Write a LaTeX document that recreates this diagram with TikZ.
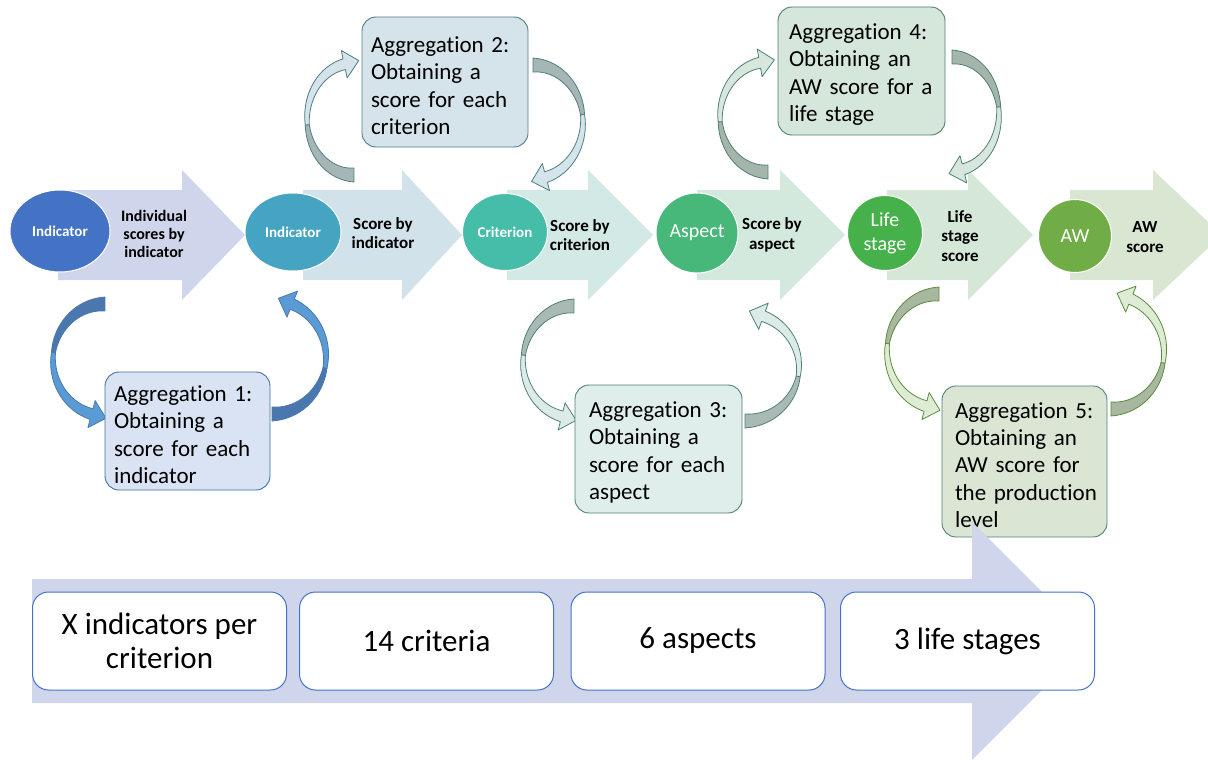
\documentclass[tikz,border=0pt]{standalone}
\usepackage{fontspec}
\setmainfont[RawFeature=-liga]{Carlito}
\usetikzlibrary{shapes.geometric}

% stage colours
\definecolor{arA}{HTML}{CFD5EA}
\definecolor{arB}{HTML}{D2E2EA}
\definecolor{arC}{HTML}{D2E9E5}
\definecolor{arD}{HTML}{D3E9DE}
\definecolor{arE}{HTML}{D5E8D7}
\definecolor{arF}{HTML}{D9E6D2}
\definecolor{ciA}{HTML}{4472C4}
\definecolor{ciB}{HTML}{45A4C1}
\definecolor{ciC}{HTML}{45BDA9}
\definecolor{ciD}{HTML}{48B87A}
\definecolor{ciE}{HTML}{46B14B}
\definecolor{ciF}{HTML}{70AD47}
\definecolor{frame}{HTML}{4472C4}

% curved arrow colour sets (dark back face, light front face, outline)
\definecolor{gaAdark}{HTML}{4A78AE}
\definecolor{gaAlight}{HTML}{5B9BD5}
\definecolor{gaAline}{HTML}{4A78AE}
\definecolor{gaBdark}{HTML}{A6B6B7}
\definecolor{gaBlight}{HTML}{D5E3EA}
\definecolor{gaBline}{HTML}{4E7E80}
\definecolor{gaCdark}{HTML}{A9BAB5}
\definecolor{gaClight}{HTML}{DCEBE8}
\definecolor{gaCline}{HTML}{4F7F7A}
\definecolor{gaDdark}{HTML}{A4B5AA}
\definecolor{gaDlight}{HTML}{D7E7DE}
\definecolor{gaDline}{HTML}{4F7F74}
\definecolor{gaEdark}{HTML}{A8B7A0}
\definecolor{gaElight}{HTML}{DEECD6}
\definecolor{gaEline}{HTML}{5B8C3C}

% aggregation box colours
\definecolor{bxA}{HTML}{DAE3F3}\definecolor{bxAl}{HTML}{41719C}
\definecolor{bxB}{HTML}{D5E3EA}\definecolor{bxBl}{HTML}{4E7F80}
\definecolor{bxC}{HTML}{DFEEEA}\definecolor{bxCl}{HTML}{507F7A}
\definecolor{bxD}{HTML}{D5E6DA}\definecolor{bxDl}{HTML}{4E7F75}
\definecolor{bxE}{HTML}{DAE6D3}\definecolor{bxEl}{HTML}{4F7F78}

% block arrow of the main row: body from #2 to #3, head from #3 to tip #4
\newcommand\flowarrow[4]{%
  \fill[#1] (#2,190) -- (#3,190) -- (#3,170) -- (#4,235) -- (#3,300)
    -- (#3,280) -- (#2,280) -- cycle;}

% twisted curved arrow following an ellipse
% #1 colour set, #2 cx, #3 cy, #4 rx, #5 ry, #6 start angle, #7 end angle
\newcommand\bendarrow[7]{%
  \pgfmathsetmacro\bsg{((#7)>(#6))?1:-1}%
  \pgfmathsetmacro\btx{\bsg*(-(#4)*sin(#7))}%
  \pgfmathsetmacro\bty{\bsg*((#5)*cos(#7))}%
  \pgfmathsetmacro\btl{veclen(\btx,\bty)}%
  \pgfmathsetmacro\bux{\btx/\btl}%
  \pgfmathsetmacro\buy{\bty/\btl}%
  \pgfmathsetmacro\bpx{(#2)+(#4)*cos(#7)}%
  \pgfmathsetmacro\bpy{(#3)+(#5)*sin(#7)}%
  \pgfmathsetmacro\bnx{cos(#7)}%
  \pgfmathsetmacro\bny{sin(#7)}%
  \filldraw[fill=#1dark, draw=#1line, line width=0.8pt, line join=round]
    plot[domain=0:0.5, samples=18, variable=\s]
      ({(#2)+((#4)+2+5*(1-2*\s))*cos((#6)+((#7)-(#6))*\s)},
       {(#3)+((#5)+2+5*(1-2*\s))*sin((#6)+((#7)-(#6))*\s)})
    -- plot[domain=0.5:0, samples=18, variable=\s]
      ({(#2)+((#4)-2-5*(1-2*\s))*cos((#6)+((#7)-(#6))*\s)},
       {(#3)+((#5)-2-5*(1-2*\s))*sin((#6)+((#7)-(#6))*\s)})
    -- cycle;
  \filldraw[fill=#1light, draw=#1line, line width=0.8pt, line join=round]
    plot[domain=0.5:1, samples=18, variable=\s]
      ({(#2)+((#4)+2+3.5*(2*\s-1))*cos((#6)+((#7)-(#6))*\s)},
       {(#3)+((#5)+2+3.5*(2*\s-1))*sin((#6)+((#7)-(#6))*\s)})
    -- ({\bpx+14*\bnx},{\bpy+14*\bny})
    -- ({\bpx+15*\bux},{\bpy+15*\buy})
    -- ({\bpx-14*\bnx},{\bpy-14*\bny})
    -- plot[domain=1:0.5, samples=18, variable=\s]
      ({(#2)+((#4)-2-3.5*(2*\s-1))*cos((#6)+((#7)-(#6))*\s)},
       {(#3)+((#5)-2-3.5*(2*\s-1))*sin((#6)+((#7)-(#6))*\s)})
    -- cycle;}

% first-line strut that lowers the text block inside a box
\newcommand\toppad{\rule{0pt}{23pt}}

\tikzset{
  stagecirc/.style={ellipse, draw=white, line width=1pt, inner sep=0pt,
    text=white, align=center},
  smallbold/.style={font=\fontsize{15}{17}\selectfont\bfseries},
  largereg/.style={font=\fontsize{20}{24}\selectfont},
  steplabel/.style={align=center, inner sep=0pt,
    font=\fontsize{17}{19.5}\selectfont\bfseries},
  aggbox/.style={rounded corners=14pt, line width=0.9pt, align=left,
    inner xsep=9pt, inner ysep=0pt,
    execute at begin node={\hyphenpenalty=10000\hbadness=10000\hfuzz=20pt},
    font=\fontsize{23}{27.4}\selectfont},
  countbox/.style={rounded corners=16pt, draw=frame, fill=white,
    line width=1pt, align=center, minimum width=254pt, minimum height=98pt,
    inner sep=0pt, font=\fontsize{31}{34}\selectfont}
}

\begin{document}
\begin{tikzpicture}[x=1pt, y=-1pt]
\useasboundingbox (0,0) rectangle (1208,760);
\clip (0,0) rectangle (1208,760);

% main row of block arrows
\flowarrow{arA}{58}{182}{245}
\flowarrow{arB}{303}{402}{462}
\flowarrow{arC}{507}{588}{653}
\flowarrow{arD}{697}{780}{845}
\flowarrow{arE}{887}{968}{1033}
\flowarrow{arF}{1070}{1153}{1222}

% level circles
\node[stagecirc, fill=ciA, minimum width=100pt, minimum height=82pt, smallbold]
  (cA) at (60,231) {Indicator};
\node[stagecirc, fill=ciB, minimum width=96pt, minimum height=78pt, smallbold]
  (cB) at (293,232) {Indicator};
\node[stagecirc, fill=ciC, minimum width=85pt, minimum height=77pt, smallbold]
  (cC) at (505,232) {Criterion};
\node[stagecirc, fill=ciD, minimum width=82pt, minimum height=80pt, largereg]
  (cD) at (697,233) {Aspect};
\node[stagecirc, fill=ciE, minimum width=75pt, minimum height=75pt, largereg]
  (cE) at (885,233) {Life\\stage};
\node[stagecirc, fill=ciF, minimum width=73pt, minimum height=73pt, largereg]
  (cF) at (1075,236) {AW};

% arrow captions
\node[steplabel, font=\fontsize{16}{17.6}\selectfont\bfseries]
  (lA) at (154,234) {Individual\\scores by\\indicator};
\node[steplabel] (lB) at (383,233) {Score by\\indicator};
\node[steplabel] (lC) at (580,235) {Score by\\criterion};
\node[steplabel] (lD) at (772,235) {Score by\\aspect};
\node[steplabel] (lE) at (960,236) {Life\\stage\\score};
\node[steplabel] (lF) at (1145,237) {AW\\score};

% curved aggregation arrows
\bendarrow{gaA}{105}{360}{52}{56}{270}{105}
\bendarrow{gaA}{272}{357}{54}{57}{90}{-68}
\bendarrow{gaB}{354}{119}{47}{56}{90}{258}
\bendarrow{gaB}{533}{122}{50}{57}{-90}{75}
\bendarrow{gaC}{574}{362}{51}{56}{270}{104}
\bendarrow{gaC}{745}{367}{54}{54}{90}{-70}
\bendarrow{gaD}{768}{117}{48}{55}{90}{260}
\bendarrow{gaD}{952}{114}{47}{57}{-90}{76}
\bendarrow{gaE}{939}{351}{52}{57}{270}{105}
\bendarrow{gaE}{1111}{352}{53}{57}{90}{-68}

% aggregation boxes
\node[aggbox, fill=bxA, draw=bxAl, text width=147pt, minimum height=118pt]
  (gA) at (187.5,431) {\toppad Aggregation 1:\\Obtaining a\\score for each\\indicator};
\node[aggbox, fill=bxB, draw=bxBl, text width=148pt, minimum height=130pt]
  (gB) at (445,82) {\toppad Aggregation 2:\\Obtaining a\\score for each\\criterion};
\node[aggbox, fill=bxC, draw=bxCl, inner xsep=14pt, text width=139pt,
  minimum height=128pt]
  (gC) at (658.5,449) {\toppad Aggregation 3:\\Obtaining a\\score for each\\aspect};
\node[aggbox, fill=bxD, draw=bxDl, inner xsep=11pt, text width=145pt,
  minimum height=128pt]
  (gD) at (861.5,71) {\toppad Aggregation 4:\\Obtaining an\\AW score for a\\life stage};
\node[aggbox, fill=bxE, draw=bxEl, inner xsep=13pt, text width=139pt,
  minimum height=151pt]
  (gE) at (1024.5,461.5) {\toppad Aggregation 5:\\Obtaining an\\AW score for\\\mbox{the production}\\level};

% lower summary arrow
\fill[arA] (32,579) -- (972,579) -- (972,522) -- (1091,641) -- (972,760)
  -- (972,703) -- (32,703) -- cycle;

% count boxes
\node[countbox] (nA) at (159.5,641) {X indicators per\\criterion};
\node[countbox] (nB) at (426.5,641) {14 criteria};
\node[countbox] (nC) at (698,641) {6 aspects};
\node[countbox] (nD) at (967.5,641) {3 life stages};
\end{tikzpicture}
\end{document}
